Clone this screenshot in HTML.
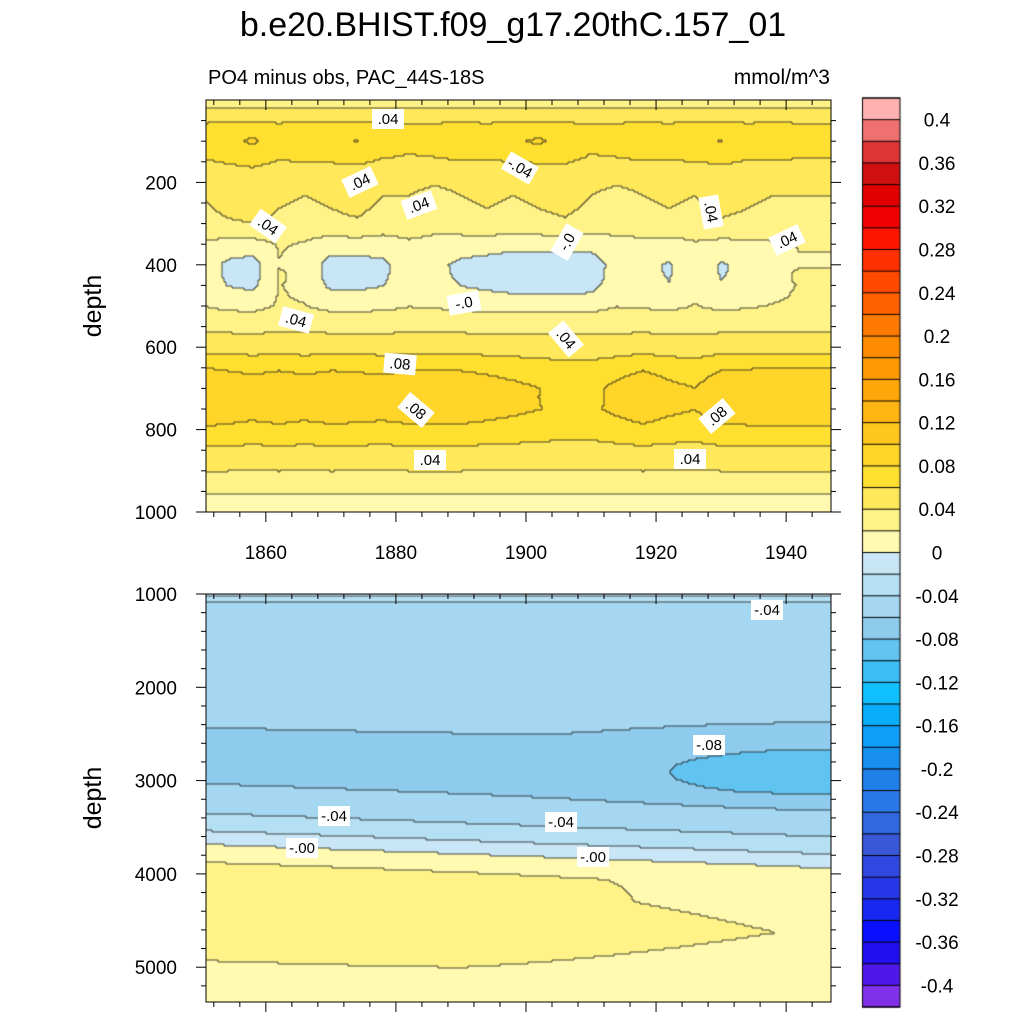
<!DOCTYPE html>
<html><head><meta charset="utf-8"><style>
body{margin:0;background:#fff;font-family:"Liberation Sans",sans-serif}
#wrap{position:relative;width:1024px;height:1024px;overflow:hidden}
canvas{position:absolute;left:0;top:0}
svg{position:absolute;left:0;top:0}
</style></head><body>
<div id="wrap">
<canvas id="cv" width="1024" height="1024"></canvas>
<svg id="sv" width="1024" height="1024"></svg>
</div>
<script>
// ---- data ----
const levelColors=["#8030e8","#5018e8","#2010f0","#0a10ff","#1828f0","#2838e8","#3048e0","#3858d8","#3068e0","#2a78e8","#2080e8","#1890f0","#109ef8","#08aef8","#10c0ff","#3cbef5","#60c3f0","#8ecbed","#a5d7f0","#b5dff3","#c8e6f6",
"#fffab0","#fff387","#ffe95a","#ffe030","#ffd52a","#ffc81e","#ffb614","#ffa60a","#ff9a05","#ff8c00","#ff7a00","#ff6000","#ff4a00","#ff3000","#ff1400","#f00000","#e00000","#d01010","#dd3535","#ee7070","#ffb0b0"];
const cbLabels=["0.4","0.36","0.32","0.28","0.24","0.2","0.16","0.12","0.08","0.04","0","-0.04","-0.08","-0.12","-0.16","-0.2","-0.24","-0.28","-0.32","-0.36","-0.4"];
const xTicks=[1860,1880,1900,1920,1940];
const topYTicks=[200,400,600,800,1000];
const botYTicks=[1000,2000,3000,4000,5000];
// top panel: depth profile
const topDepths=[0,25,60,100,150,200,250,300,350,400,450,500,550,600,650,700,750,800,850,900,950,1000];
const topProfile=[0.035,0.042,0.062,0.07,0.058,0.045,0.037,0.03,0.015,0.005,0.008,0.018,0.035,0.05,0.072,0.085,0.085,0.07,0.055,0.04,0.022,0.01];
const anomYears=[1850,1854,1858,1862,1866,1870,1874,1878,1882,1886,1890,1894,1898,1902,1906,1910,1914,1918,1922,1926,1930,1934,1938,1942,1946];
const midAnom=[0.01,-0.01,-0.015,0.015,0.01,-0.015,-0.015,-0.01,0.005,0.0,-0.01,-0.015,-0.02,-0.022,-0.022,-0.018,0.005,0.0,-0.008,0.01,-0.008,0.0,0.01,0.015,0.015];
const deepAnom=[0.015,0.01,0.005,0.01,0.005,0.01,0.008,0.005,0.01,0.01,0.01,0.005,0.0,-0.005,-0.01,-0.01,0.0,0.01,0.0,-0.005,0.01,0.012,0.015,0.015,0.015];
const shallowAnom=[0.0,0.01,0.015,0.005,0.0,0.005,0.01,0.0,0.0,-0.005,0.0,0.005,0.0,0.005,0.01,0.0,-0.005,0.0,0.005,0.0,0.01,0.005,0.0,0.0,0.0];
const surfAnom=[0.0,0.005,0.012,0.0,0.01,0.008,0.01,0.0,-0.005,0.0,0.005,0.0,0.008,0.012,0.005,-0.005,0.0,0.005,0.0,0.008,0.01,0.0,0.005,0.0,0.0];
// bottom panel profile
const botDepths=[1000,1030,1060,1100,1500,2000,2400,2600,2900,3000,3200,3350,3500,3650,3750,3900,4400,4900,5000,5365];
const botProfile=[-0.01,-0.025,-0.035,-0.045,-0.05,-0.055,-0.059,-0.065,-0.07,-0.062,-0.05,-0.04,-0.025,-0.005,0.01,0.022,0.03,0.022,0.015,0.012];

// ---- axes ----
const X0=206,X1=831;
const xs=y=>X0+(y-1850.8)/(1946.9-1850.8)*(X1-X0);
const T0=100,T1=512;const ysT=d=>T0+(d/1000)*(T1-T0);
const B0=594,B1=1002;const ysB=d=>B0+(d-1000)*0.0933;
const invX=px=>1850.8+(px-X0)/(X1-X0)*(1946.9-1850.8);
function interp(xa,ya,v){if(v<=xa[0])return ya[0];for(let i=1;i<xa.length;i++){if(v<=xa[i]){const f=(v-xa[i-1])/(xa[i]-xa[i-1]);return ya[i-1]+f*(ya[i]-ya[i-1]);}}return ya[ya.length-1];}
function levelIdx(v){let i=Math.floor(v/0.02)+21;return Math.max(0,Math.min(41,i));}
function topVal(yr,d){let v=interp(topDepths,topProfile,d);
 v+=interp(anomYears,midAnom,yr)*Math.exp(-Math.pow((d-420)/70,2));
 v+=interp(anomYears,deepAnom,yr)*Math.exp(-Math.pow((d-720)/90,2));
 v+=interp(anomYears,shallowAnom,yr)*Math.exp(-Math.pow((d-250)/80,2));
 v+=interp(anomYears,surfAnom,yr)*Math.exp(-Math.pow((d-100)/40,2));return v;}
function botVal(yr,d){const t=(yr-1850.8)/96;let dd=d>2000?d-t*250*Math.min(1,(d-2000)/800):d;
 let v=interp(botDepths,botProfile,dd);
 v+=-0.028*Math.exp(-Math.pow((d-2850)/300,2)-Math.pow((t-1)/0.3,2));
 if(d>3900)v-=0.012*t*t*Math.min(1,(d-3900)/400);return v;}
const cv=document.getElementById('cv');const ctx=cv.getContext('2d');
function drawField(yT,yB,dep,fn){const S=2;const W=Math.ceil((X1-X0)/S),H=Math.ceil((yB-yT)/S);const g=[];
 for(let j=0;j<H;j++){g.push([]);for(let i=0;i<W;i++){const yr=invX(X0+i*S+1);const d=dep(yT+j*S+1);g[j].push(levelIdx(fn(yr,d)));}}
 for(let j=0;j<H;j++)for(let i=0;i<W;i++){ctx.fillStyle=levelColors[g[j][i]];ctx.fillRect(X0+i*S,yT+j*S,S,S);}
 ctx.fillStyle="rgba(30,30,30,0.8)";
 for(let j=0;j<H;j++)for(let i=0;i<W;i++){if(i<W-1&&g[j][i]!==g[j][i+1])ctx.fillRect(X0+i*S+S-0.5,yT+j*S,1,S);if(j<H-1&&g[j][i]!==g[j+1][i])ctx.fillRect(X0+i*S,yT+j*S+S-0.5,S,1);}}
drawField(T0,T1,py=>(py-T0)/(T1-T0)*1000,topVal);
drawField(B0,B1,py=>1000+(py-B0)/0.0933,botVal);
ctx.clearRect(X1,0,200,1024);
// colorbar
for(let k=0;k<42;k++){const y=98+k*909/42;ctx.fillStyle=levelColors[41-k];ctx.fillRect(862,y,38,909/42+0.5);}
ctx.strokeStyle="#000";ctx.lineWidth=1;
for(let k=0;k<=42;k++){const y=98+k*909/42;ctx.beginPath();ctx.moveTo(862,y);ctx.lineTo(900,y);ctx.stroke();}
ctx.strokeRect(862.5,98,37.5,909);

// ---- svg overlay ----
const sv=document.getElementById('sv');const NS="http://www.w3.org/2000/svg";
function el(tag,a,txt){const e=document.createElementNS(NS,tag);for(const k in a)e.setAttribute(k,a[k]);if(txt!==undefined)e.textContent=txt;sv.appendChild(e);return e;}
let e;
e=el('text',{x:513,y:36,'text-anchor':'middle','font-size':34},'b.e20.BHIST.f09_g17.20thC.157_01');


e=el('text',{x:208,y:84,'font-size':20},'PO4 minus obs, PAC_44S-18S');


e=el('text',{x:830,y:84,'text-anchor':'end','font-size':21},'mmol/m^3');


[[T0,T1],[B0,B1]].forEach((p,pi)=>{
 e=el('rect',{x:X0,y:p[0],width:X1-X0,height:p[1]-p[0],fill:'none',stroke:'#000','stroke-width':1});
 
 
 e=el('text',{x:0,y:0,'font-size':25,'text-anchor':'middle',transform:`translate(101,${(p[0]+p[1])/2}) rotate(-90)`},'depth');
 
 
 for(let yr=1852;yr<=1946;yr+=4){const x=xs(yr);const major=xTicks.includes(yr);const L=major?10:5;
  e=el('line',{x1:x,x2:x,y1:p[0],y2:p[0]+L,stroke:'#000'});
  
  
  e=el('line',{x1:x,x2:x,y1:p[1],y2:p[1]+L,stroke:'#000'});
  
  }
});
xTicks.forEach(t=>{e=el('text',{x:xs(t),y:559,'text-anchor':'middle','font-size':19},String(t));
 
 });
for(let d=50;d<=1000;d+=50){const y=ysT(d);const major=topYTicks.includes(d);const L=major?10:5;
 e=el('line',{x1:X0-L,x2:X0,y1:y,y2:y,stroke:'#000'});
 e=el('line',{x1:X1,x2:X1+L,y1:y,y2:y,stroke:'#000'});}
topYTicks.forEach(t=>{e=el('text',{x:177,y:ysT(t)+7,'text-anchor':'end','font-size':19},String(t));
 
 });
for(let d=1000;d<=5300;d+=200){const y=ysB(d);const major=botYTicks.includes(d);const L=major?10:5;
 e=el('line',{x1:X0-L,x2:X0,y1:y,y2:y,stroke:'#000'});
 e=el('line',{x1:X1,x2:X1+L,y1:y,y2:y,stroke:'#000'});}
botYTicks.forEach(t=>{e=el('text',{x:177,y:ysB(t)+7,'text-anchor':'end','font-size':19},String(t));
 
 });
cbLabels.forEach((l,i)=>{const y=98+(2*i+1)*909/42;
 e=el('text',{x:937,y:y+7,'text-anchor':'middle','font-size':19},l);
 
 });
// contour labels
const cl=[[388,119,'.04',0],[520,168,'-.04',30],[360,182,'.04',-25],[419,205,'.04',-20],[268,226,'.04',35],[711,212,'.04',80],[787,240,'.04',-25],[567,242,'-.0',-60],[464,303,'-.0',-10],[296,320,'.04',15],[566,339,'.04',50],[400,364,'.08',5],[416,410,'.08',40],[717,416,'.08',-40],[430,460,'.04',0],[690,459,'.04',0],
[767,610,'-.04',0],[709,745,'-.08',0],[334,816,'-.04',0],[561,822,'-.04',0],[302,848,'-.00',0],[593,857,'-.00',0]];
cl.forEach(c=>{const g=document.createElementNS(NS,'g');g.setAttribute('transform',`translate(${c[0]},${c[1]}) rotate(${c[3]})`);
 
 
 const r=document.createElementNS(NS,'rect');r.setAttribute('x',-16);r.setAttribute('y',-10);r.setAttribute('width',32);r.setAttribute('height',20);r.setAttribute('fill','#fff');g.appendChild(r);
 const t=document.createElementNS(NS,'text');t.setAttribute('x',0);t.setAttribute('y',5);t.setAttribute('text-anchor','middle');t.setAttribute('font-size',15);t.textContent=c[2];g.appendChild(t);
 sv.appendChild(g);});
</script>
</body></html>
